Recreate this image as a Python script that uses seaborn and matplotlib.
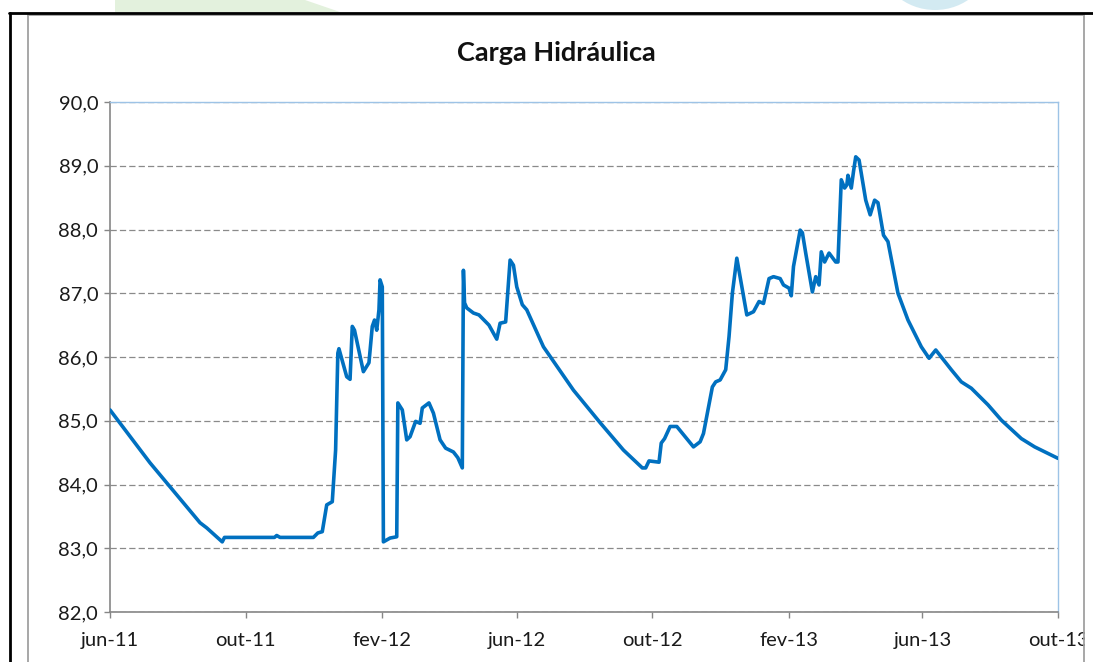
import pandas as pd
import matplotlib.pyplot as plt
import matplotlib.ticker as mticker
import seaborn as sns
from matplotlib.lines import Line2D
from matplotlib.patches import Polygon, Ellipse, Rectangle

# dias contados a partir de 01/06/2011
inicio = pd.Timestamp('2011-06-01')
dias = [0, 36, 81, 87, 101, 103, 148, 150, 153, 183, 187, 191, 195, 200,
        203, 205, 206, 213, 216, 218, 220, 228, 233, 236, 238, 240, 242, 243,
        245, 246, 252, 258, 259, 263, 267, 270, 275, 279, 281, 287, 291, 297,
        302, 309, 313, 317, 318, 319, 321, 327, 332, 341, 348, 351, 356, 360,
        363, 366, 371, 375, 390, 417, 441, 462, 479, 482, 485, 494, 496, 499,
        504, 510, 525, 531, 534, 542, 545, 549, 554, 557, 560, 564, 569, 573,
        579, 584, 588, 593, 597, 603, 606, 611, 613, 615, 621, 623, 626, 632,
        635, 638, 640, 643, 647, 653, 655, 658, 661, 663, 664, 667, 669, 671,
        674, 680, 684, 688, 691, 696, 700, 709, 718, 730, 737, 743, 748, 757,
        766, 775, 790, 802, 820, 832, 853]
carga = [85.17, 84.34, 83.40, 83.32, 83.10, 83.17, 83.17, 83.20, 83.17, 83.17,
         83.24, 83.26, 83.68, 83.73, 84.54, 86.06, 86.13, 85.69, 85.65, 86.48,
         86.42, 85.77, 85.91, 86.48, 86.58, 86.42, 86.74, 87.21, 87.10, 83.10,
         83.16, 83.18, 85.28, 85.17, 84.70, 84.75, 84.99, 84.96, 85.20, 85.28,
         85.12, 84.70, 84.57, 84.51, 84.42, 84.26, 87.36, 86.85, 86.77, 86.69,
         86.66, 86.50, 86.28, 86.53, 86.55, 87.52, 87.44, 87.10, 86.82, 86.74,
         86.16, 85.48, 84.97, 84.54, 84.26, 84.26, 84.37, 84.35, 84.65, 84.72,
         84.91, 84.91, 84.59, 84.67, 84.80, 85.53, 85.61, 85.64, 85.80, 86.32,
         87.00, 87.55, 87.05, 86.66, 86.71, 86.87, 86.84, 87.23, 87.26, 87.23,
         87.13, 87.08, 86.96, 87.42, 87.99, 87.95, 87.63, 87.02, 87.26, 87.13,
         87.65, 87.49, 87.63, 87.49, 87.49, 88.78, 88.65, 88.70, 88.85, 88.65,
         88.91, 89.14, 89.09, 88.46, 88.23, 88.46, 88.42, 87.91, 87.81, 87.00,
         86.58, 86.16, 85.98, 86.11, 86.00, 85.80, 85.61, 85.51, 85.25, 85.01,
         84.72, 84.59, 84.41]
rotulos_x = ['jun-11', 'out-11', 'fev-12', 'jun-12', 'out-12', 'fev-13', 'jun-13', 'out-13']
marcas_y = [82, 83, 84, 85, 86, 87, 88, 89, 90]

df = pd.DataFrame({'data': inicio + pd.to_timedelta(dias, unit='D'), 'carga': carga})
datas_x = pd.date_range('2011-06-01', periods=len(rotulos_x), freq='4MS')

sns.set_style('white')
plt.rcParams['font.family'] = ['Lato', 'DejaVu Sans']

W, H = 1093, 662
fig = plt.figure(figsize=(W / 100, H / 100), dpi=100)
ax = fig.add_axes([110 / W, 1 - 612 / H, 948 / W, 510 / H])

sns.lineplot(x='data', y='carga', data=df, ax=ax, color='#0070C0', lw=2.6, zorder=3)

ax.set_xlim(datas_x[0], datas_x[-1])
ax.set_ylim(82, 90)
ax.set_xticks(datas_x)
ax.set_xticklabels(rotulos_x)
ax.set_yticks(marcas_y)
ax.yaxis.set_major_formatter(mticker.FuncFormatter(lambda v, p: f'{v:.1f}'.replace('.', ',')))
ax.set_xlabel('')
ax.set_ylabel('')

ax.yaxis.grid(True, linestyle=(0, (5, 2.5)), color='#8a8a8a', lw=0.9)
ax.xaxis.grid(False)
for lado in ['left', 'bottom']:
    ax.spines[lado].set_color('#868686')
    ax.spines[lado].set_linewidth(1.2)
for lado in ['top', 'right']:
    ax.spines[lado].set_color('#9DC3E6')
    ax.spines[lado].set_linewidth(1.0)
ax.tick_params(axis='both', which='major', direction='out', length=4.5, width=1,
               color='#868686', labelsize=14.5, labelcolor='#1a1a1a')
ax.tick_params(axis='x', pad=10)
ax.tick_params(axis='y', left=True, pad=4)
ax.tick_params(axis='x', bottom=True)

fig.text(556 / W, 1 - 53 / H, 'Carga Hidráulica', ha='center', va='center',
         fontsize=19.5, weight='bold', color='#111111')

# marcas d'agua no topo
fig.add_artist(Polygon([(115 / W, 1), (305 / W, 1), (340 / W, 1 - 12 / H), (115 / W, 1 - 12 / H)],
                       closed=True, transform=fig.transFigure, color='#E3F1DD', lw=0, zorder=0))
fig.add_artist(Ellipse((935 / W, 1 + 40 / H), 110 / W, 100 / H, transform=fig.transFigure,
                       color='#D3EAF2', lw=0, zorder=0))

# moldura
fig.add_artist(Rectangle((1085 / W, 0), 8 / W, 1 - 14 / H, transform=fig.transFigure,
                         color='white', lw=0, zorder=5))
cinza = '#A0A0A0'
fig.add_artist(Line2D([28 / W, 1084 / W], [1 - 15 / H, 1 - 15 / H], transform=fig.transFigure,
                      color=cinza, lw=1.3, zorder=6))
fig.add_artist(Line2D([28 / W, 28 / W], [0, 1 - 15 / H], transform=fig.transFigure,
                      color=cinza, lw=1.3, zorder=6))
fig.add_artist(Line2D([1084 / W, 1084 / W], [0, 1 - 15 / H], transform=fig.transFigure,
                      color=cinza, lw=1.3, zorder=6))
fig.add_artist(Line2D([9 / W, 1], [1 - 13 / H, 1 - 13 / H], transform=fig.transFigure,
                      color='black', lw=2, zorder=7))
fig.add_artist(Line2D([9.5 / W, 9.5 / W], [0, 1 - 13 / H], transform=fig.transFigure,
                      color='black', lw=2, zorder=7))

fig.savefig('out.png', dpi=100)
